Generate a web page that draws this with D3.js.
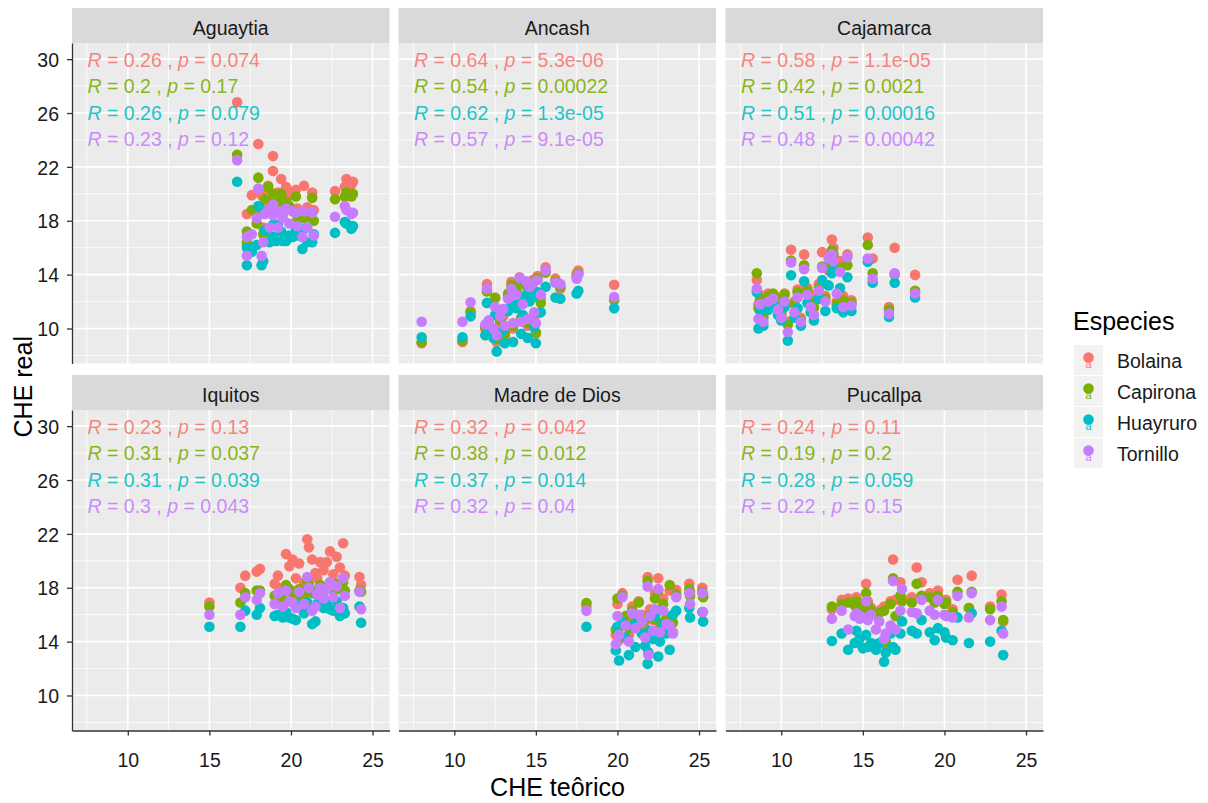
<!DOCTYPE html>
<html>
<head>
<meta charset="utf-8">
<script src="https://cdn.jsdelivr.net/npm/d3@7"></script>
<style>
body { margin: 0; background: #fff; }
text { font-family: Arial, "Liberation Sans", sans-serif; }
</style>
</head>
<body>
<div id="chart"></div>
<script>
// facets and species
var sites = ["Aguaytia", "Ancash", "Cajamarca", "Iquitos", "Madre de Dios", "Pucallpa"];
var species = ["Bolaina", "Capirona", "Huayruro", "Tornillo"];
var speciesColors = ["#F8766D", "#7CAE00", "#00BFC4", "#C77CFF"];

// correlation labels (R, p) per site, species in order
var rLabels = [
	["0.26", "0.2", "0.26", "0.23"],
	["0.64", "0.54", "0.62", "0.57"],
	["0.58", "0.42", "0.51", "0.48"],
	["0.23", "0.31", "0.31", "0.3"],
	["0.32", "0.38", "0.37", "0.32"],
	["0.24", "0.19", "0.28", "0.22"]
];
var pLabels = [
	["0.074", "0.17", "0.079", "0.12"],
	["5.3e-06", "0.00022", "1.3e-05", "9.1e-05"],
	["1.1e-05", "0.0021", "0.00016", "0.00042"],
	["0.13", "0.037", "0.039", "0.043"],
	["0.042", "0.012", "0.014", "0.04"],
	["0.11", "0.2", "0.059", "0.15"]
];

var xTicks = [10, 15, 20, 25];
var yTicks = [10, 14, 18, 22, 26, 30];

// CHE teorico (x) per sample, CHE real (y) per species [Bolaina, Capirona, Huayruro, Tornillo]
var aguaytiaX = [16.7, 17.3, 17.3, 17.6, 17.9, 18.0, 18.2, 18.3, 18.4, 18.6, 18.7, 18.9, 18.9, 19.1, 19.2, 19.4, 19.5, 19.7, 19.9, 20.1, 20.3, 20.4, 20.7, 20.8, 21.0, 21.3, 21.4, 22.7, 23.3, 23.4, 23.7, 23.8];
var aguaytiaY = [
	[26.8, 18.5, 16.2, 19.9, 18.6, 23.7, 19.9, 17.5, 20.3, 20.6, 19.5, 22.8, 21.7, 19.8, 20.1, 21.1, 19.6, 20.5, 20.0, 19.9, 20.3, 18.9, 18.2, 20.6, 19.0, 20.1, 18.8, 20.2, 20.5, 21.1, 20.7, 20.9],
	[22.9, 17.2, 16.4, 18.8, 17.8, 21.2, 18.9, 17.0, 19.6, 20.5, 18.9, 20.0, 19.3, 19.5, 19.3, 20.0, 18.6, 19.4, 19.1, 18.7, 19.8, 18.2, 18.6, 18.2, 18.3, 19.7, 18.0, 19.6, 19.8, 20.1, 19.8, 20.0],
	[20.9, 16.0, 14.7, 15.7, 16.2, 19.1, 14.7, 15.0, 17.3, 17.4, 16.4, 17.7, 16.8, 16.5, 17.7, 17.2, 16.5, 16.5, 16.9, 16.8, 17.4, 16.9, 15.9, 17.4, 16.4, 16.4, 17.0, 17.1, 17.9, 17.8, 17.4, 17.6],
	[22.5, 16.8, 15.4, 17.0, 18.2, 20.4, 15.4, 16.4, 18.5, 18.8, 17.5, 19.2, 18.4, 18.7, 17.5, 18.7, 18.2, 18.9, 17.8, 18.7, 18.6, 17.6, 16.8, 18.7, 17.5, 18.6, 16.9, 18.3, 19.1, 18.8, 18.5, 18.6]
];

var ancashX = [8.0, 10.5, 11.0, 11.9, 12.0, 12.1, 12.4, 12.5, 12.6, 12.8, 13.0, 13.1, 13.3, 13.5, 13.6, 13.8, 14.0, 14.1, 14.2, 14.4, 14.5, 14.6, 14.8, 14.9, 15.0, 15.1, 15.3, 15.6, 16.2, 16.5, 17.5, 17.6, 19.8];
var ancashY = [
	[8.9, 9.0, 11.3, 10.0, 13.3, 10.2, 9.6, 12.3, 9.0, 10.5, 10.9, 9.4, 12.4, 13.45, 10.0, 12.8, 13.8, 10.6, 12.1, 13.4, 10.2, 12.9, 13.6, 10.8, 9.6, 13.9, 12.2, 14.55, 13.7, 12.95, 14.1, 14.3, 13.25],
	[9.0, 9.1, 11.2, 10.1, 12.75, 10.4, 9.8, 12.25, 9.2, 10.6, 11.2, 9.6, 12.6, 13.2, 10.2, 12.9, 13.5, 10.8, 12.0, 13.2, 10.4, 12.8, 13.4, 11.0, 9.7, 13.7, 11.9, 14.15, 13.5, 13.1, 13.9, 14.1, 12.1],
	[9.35, 9.35, 10.9, 9.5, 11.9, 9.9, 9.3, 11.0, 8.3, 9.7, 9.9, 8.9, 11.3, 11.8, 9.0, 11.5, 12.2, 9.6, 11.0, 12.5, 9.3, 12.0, 12.3, 10.1, 8.9, 12.7, 11.2, 13.1, 12.3, 12.2, 12.6, 12.8, 11.5],
	[10.5, 10.5, 11.95, 10.3, 12.95, 10.6, 10.0, 11.6, 9.5, 10.9, 11.45, 10.2, 12.2, 12.95, 10.4, 12.5, 13.75, 10.5, 11.8, 13.5, 10.7, 13.1, 13.3, 11.2, 10.4, 13.6, 12.5, 14.3, 13.4, 13.3, 13.7, 14.0, 12.33]
];

var cajamarcaX = [8.5, 8.6, 8.7, 8.9, 9.2, 9.5, 9.8, 10.0, 10.2, 10.4, 10.6, 10.8, 11.0, 11.2, 11.4, 11.6, 11.8, 12.0, 12.3, 12.5, 12.7, 12.9, 13.1, 13.2, 13.4, 13.6, 13.8, 14.05, 14.3, 15.3, 15.6, 16.6, 16.95, 18.2];
var cajamarcaY = [
	[13.6, 11.8, 12.5, 11.0, 12.6, 12.4, 12.3, 11.2, 12.6, 10.5, 15.85, 12.0, 12.9, 10.8, 15.5, 13.0, 12.5, 11.5, 13.3, 15.67, 12.4, 14.3, 16.6, 16.0, 12.0, 15.0, 12.4, 15.5, 12.1, 16.75, 15.2, 11.6, 16.0, 13.98],
	[14.1, 11.5, 12.2, 10.8, 12.4, 12.6, 12.1, 11.0, 12.5, 10.3, 15.05, 11.8, 12.7, 10.6, 14.7, 12.8, 12.0, 11.6, 13.0, 14.6, 12.2, 14.5, 15.8, 15.5, 11.8, 14.5, 12.1, 14.7, 11.9, 16.2, 14.1, 11.4, 14.0, 12.8],
	[12.7, 10.0, 11.3, 10.2, 11.4, 11.9, 11.0, 10.6, 11.6, 9.1, 13.95, 10.8, 11.5, 10.2, 13.5, 11.9, 11.2, 10.6, 12.2, 13.6, 11.3, 13.2, 14.1, 14.4, 11.5, 13.0, 11.2, 13.8, 11.3, 14.95, 13.4, 10.85, 13.4, 12.3],
	[12.95, 10.7, 11.8, 10.5, 12.0, 12.2, 11.4, 10.8, 12.0, 9.73, 14.9, 11.2, 12.3, 10.5, 14.4, 12.5, 11.6, 11.0, 12.8, 14.5, 12.0, 15.2, 15.5, 15.0, 12.6, 14.2, 11.6, 15.3, 11.7, 15.2, 13.7, 11.1, 14.1, 12.6]
];

var iquitosX = [15.0, 16.9, 17.2, 17.9, 18.1, 19.0, 19.2, 19.5, 19.7, 19.9, 20.1, 20.3, 20.5, 20.8, 21.0, 21.1, 21.3, 21.5, 21.6, 21.8, 22.0, 22.2, 22.4, 22.6, 22.8, 23.0, 23.2, 23.3, 24.2, 24.3];
var iquitosY = [
	[16.9, 18.0, 18.9, 19.2, 19.4, 18.3, 18.9, 18.0, 20.5, 19.6, 20.1, 18.7, 19.8, 18.4, 21.6, 21.0, 20.1, 19.1, 18.7, 19.9, 19.3, 19.9, 20.7, 19.0, 20.3, 19.5, 21.3, 18.9, 18.8, 18.2],
	[16.6, 16.9, 17.6, 17.8, 17.8, 17.4, 17.5, 17.2, 18.2, 17.9, 17.6, 17.3, 17.9, 17.5, 18.5, 18.2, 17.6, 17.8, 17.5, 18.2, 17.7, 18.0, 18.4, 17.8, 18.3, 17.9, 18.4, 17.8, 17.8, 17.7],
	[15.1, 15.1, 16.3, 16.0, 16.5, 15.9, 16.0, 15.8, 16.2, 15.8, 15.7, 15.6, 16.8, 16.1, 16.9, 16.5, 15.3, 15.5, 16.8, 17.0, 16.5, 16.9, 16.4, 16.3, 17.0, 15.9, 16.5, 16.1, 16.6, 15.4],
	[16.0, 16.0, 17.3, 17.1, 17.6, 16.8, 17.6, 16.6, 17.8, 17.0, 16.9, 16.5, 17.7, 16.8, 18.8, 18.0, 16.3, 16.6, 17.5, 18.0, 17.2, 17.9, 18.4, 17.3, 18.1, 16.5, 18.7, 17.4, 17.7, 16.4]
];

var madreX = [18.1, 19.9, 20.0, 20.1, 20.3, 20.5, 20.7, 20.9, 21.1, 21.3, 21.5, 21.7, 21.85, 21.9, 22.0, 22.2, 22.3, 22.5, 22.6, 22.8, 23.0, 23.2, 23.4, 23.6, 24.4, 24.45, 25.2, 25.25];
var madreY = [
	[16.6, 14.5, 16.8, 14.1, 17.6, 15.6, 14.5, 16.6, 15.3, 17.0, 16.0, 15.0, 18.8, 14.3, 16.4, 15.6, 17.6, 18.7, 15.0, 17.2, 15.8, 17.8, 14.7, 17.85, 18.3, 17.7, 18.0, 17.5],
	[16.86, 14.9, 17.2, 15.0, 17.4, 15.9, 15.0, 16.3, 15.5, 16.9, 15.7, 15.6, 18.5, 14.8, 16.0, 15.7, 17.2, 17.8, 15.4, 16.8, 15.6, 18.2, 15.4, 17.5, 17.9, 17.4, 17.7, 17.3],
	[15.1, 13.35, 15.1, 12.6, 15.4, 14.3, 13.0, 15.2, 13.6, 15.6, 14.6, 13.7, 12.35, 13.2, 14.8, 14.2, 15.9, 12.9, 14.0, 15.3, 14.6, 13.4, 16.0, 16.3, 16.5, 15.8, 16.2, 15.5],
	[16.3, 13.8, 15.9, 14.5, 17.3, 15.2, 14.0, 16.1, 15.0, 16.0, 15.5, 14.3, 18.1, 13.0, 15.9, 14.8, 16.4, 17.9, 14.7, 16.3, 15.3, 15.2, 14.6, 17.3, 17.6, 16.8, 17.6, 16.2]
];

var pucallpaX = [13.1, 13.7, 14.1, 14.5, 14.6, 14.8, 15.0, 15.2, 15.3, 15.5, 15.8, 16.0, 16.3, 16.4, 16.7, 16.85, 17.0, 17.3, 17.4, 18.0, 18.3, 18.6, 19.1, 19.4, 19.6, 20.0, 20.1, 20.5, 20.8, 21.5, 21.67, 22.8, 23.5, 23.6];
var pucallpaY = [
	[16.4, 17.1, 17.2, 16.9, 17.3, 16.9, 16.6, 18.3, 17.0, 16.5, 16.1, 16.3, 16.6, 13.7, 17.0, 20.1, 17.1, 18.4, 17.2, 17.3, 19.5, 18.4, 17.6, 17.2, 17.8, 17.0, 17.1, 16.4, 18.6, 16.5, 18.9, 16.6, 17.5, 15.5],
	[16.6, 16.8, 16.9, 16.7, 17.0, 16.6, 16.4, 17.6, 16.8, 16.3, 16.0, 16.1, 16.3, 14.0, 16.8, 18.7, 15.9, 17.4, 17.0, 16.9, 18.3, 17.4, 17.3, 16.9, 17.4, 16.8, 16.9, 16.2, 17.7, 16.5, 17.7, 16.4, 17.0, 15.6],
	[14.05, 14.6, 13.4, 13.9, 14.8, 14.2, 13.5, 14.5, 13.6, 13.9, 13.4, 13.9, 12.5, 13.2, 14.6, 13.6, 13.4, 14.6, 15.5, 14.8, 14.6, 15.6, 14.7, 14.1, 15.0, 14.7, 14.3, 14.1, 15.8, 13.9, 16.1, 14.0, 14.8, 13.0],
	[15.7, 16.3, 14.9, 15.9, 16.1, 15.7, 15.8, 17.0, 15.6, 16.0, 14.9, 15.5, 14.2, 14.6, 15.2, 18.5, 14.9, 16.3, 17.9, 16.2, 16.1, 17.1, 16.3, 16.0, 17.1, 16.0, 15.9, 15.8, 17.4, 15.8, 17.6, 15.6, 16.6, 14.6]
];

var siteX = [aguaytiaX, ancashX, cajamarcaX, iquitosX, madreX, pucallpaX];
var siteY = [aguaytiaY, ancashY, cajamarcaY, iquitosY, madreY, pucallpaY];

// layout
var colLeft = [72, 398.5, 725.5],
	rowTop = [8, 375],
	panelW = 317.5,
	panelH = 320.5,
	stripH = 35,
	fs = 19.5,
	pointR = 5.3;

var svg = d3.select("#chart")
	.append("svg")
	.attr("width", 1208)
	.attr("height", 803);

var x = d3.scaleLinear().domain([6.58, 26.04]).range([0, panelW]);
var y = d3.scaleLinear().domain([7.4, 31.2]).range([panelH, 0]);

var xMinor = [7.5, 12.5, 17.5, 22.5];
var yMinor = [8, 12, 16, 20, 24, 28];

sites.forEach(function(site, i) {
	var col = i % 3, row = Math.floor(i / 3);

	// strip
	var strip = svg.append("g")
		.attr("transform", "translate(" + colLeft[col] + "," + rowTop[row] + ")");
	strip.append("rect")
		.attr("width", panelW)
		.attr("height", stripH)
		.attr("fill", "#D9D9D9");
	strip.append("text")
		.attr("x", panelW / 2)
		.attr("y", 27)
		.attr("text-anchor", "middle")
		.style("font-size", fs + "px")
		.style("fill", "#1A1A1A")
		.text(site);

	var g = svg.append("g")
		.attr("transform", "translate(" + colLeft[col] + "," + (rowTop[row] + stripH) + ")");

	g.append("rect")
		.attr("width", panelW)
		.attr("height", panelH)
		.attr("fill", "#EBEBEB");

	// grid lines
	g.selectAll(".xminor").data(xMinor).enter().append("line")
		.attr("x1", function(d) { return x(d); }).attr("x2", function(d) { return x(d); })
		.attr("y1", 0).attr("y2", panelH)
		.attr("stroke", "#fff").attr("stroke-width", 0.8);
	g.selectAll(".yminor").data(yMinor).enter().append("line")
		.attr("y1", function(d) { return y(d); }).attr("y2", function(d) { return y(d); })
		.attr("x1", 0).attr("x2", panelW)
		.attr("stroke", "#fff").attr("stroke-width", 0.8);
	g.selectAll(".xmajor").data(xTicks).enter().append("line")
		.attr("x1", function(d) { return x(d); }).attr("x2", function(d) { return x(d); })
		.attr("y1", 0).attr("y2", panelH)
		.attr("stroke", "#fff").attr("stroke-width", 1.6);
	g.selectAll(".ymajor").data(yTicks).enter().append("line")
		.attr("y1", function(d) { return y(d); }).attr("y2", function(d) { return y(d); })
		.attr("x1", 0).attr("x2", panelW)
		.attr("stroke", "#fff").attr("stroke-width", 1.6);

	// points, species drawn in order
	var xs = siteX[i];
	species.forEach(function(sp, s) {
		var ys = siteY[i][s];
		var pts = xs.map(function(v, k) { return {x: v, y: ys[k]}; })
			.filter(function(d) { return d.y != null; });
		g.selectAll(".pt" + s).data(pts).enter().append("circle")
			.attr("cx", function(d) { return x(d.x); })
			.attr("cy", function(d) { return y(d.y); })
			.attr("r", pointR)
			.attr("fill", speciesColors[s]);
	});

	// correlation labels
	species.forEach(function(sp, s) {
		var t = g.append("text")
			.attr("x", 15.5)
			.attr("y", 23.7 + s * 26.4)
			.style("font-size", fs + "px")
			.style("fill", speciesColors[s])
			.style("fill-opacity", 0.9);
		t.append("tspan").style("font-style", "italic").text("R");
		t.append("tspan").text(" = " + rLabels[i][s] + " , ");
		t.append("tspan").style("font-style", "italic").text("p");
		t.append("tspan").text(" = " + pLabels[i][s]);
	});

	// left axis on first column
	if (col === 0) {
		var ya = g.append("g")
			.call(d3.axisLeft(y).tickValues(yTicks).tickSize(5).tickSizeOuter(0).tickPadding(8));
		ya.select(".domain").attr("stroke", "#333").attr("stroke-width", 1.3);
		ya.selectAll(".tick line").attr("stroke", "#333").attr("stroke-width", 1.3);
		ya.selectAll(".tick text")
			.attr("dy", "0.37em")
			.style("font-size", fs + "px")
			.style("font-family", "Arial, 'Liberation Sans', sans-serif")
			.style("fill", "#1A1A1A");
	}
	// bottom axis on second row
	if (row === 1) {
		var xa = g.append("g")
			.attr("transform", "translate(0," + panelH + ")")
			.call(d3.axisBottom(x).tickValues(xTicks).tickSize(5).tickSizeOuter(0).tickPadding(18));
		xa.select(".domain").attr("stroke", "#333").attr("stroke-width", 1.3);
		xa.selectAll(".tick line").attr("stroke", "#333").attr("stroke-width", 1.3);
		xa.selectAll(".tick text")
			.style("font-size", fs + "px")
			.style("font-family", "Arial, 'Liberation Sans', sans-serif")
			.style("fill", "#1A1A1A");
	}
});

// axis titles
svg.append("text")
	.attr("x", (colLeft[0] + colLeft[2] + panelW) / 2)
	.attr("y", 796)
	.attr("text-anchor", "middle")
	.style("font-size", "25px")
	.style("fill", "#000")
	.text("CHE teôrico");
svg.append("text")
	.attr("transform", "translate(31.5," + ((rowTop[0] + stripH + rowTop[1] + stripH + panelH) / 2) + ") rotate(-90)")
	.attr("text-anchor", "middle")
	.style("font-size", "25px")
	.style("fill", "#000")
	.text("CHE real");

// legend
var legend = svg.append("g").attr("transform", "translate(1073,0)");
legend.append("text")
	.attr("x", 0)
	.attr("y", 329.5)
	.style("font-size", "25px")
	.style("fill", "#000")
	.text("Especies");
species.forEach(function(sp, s) {
	var top = 345 + s * 31;
	legend.append("rect")
		.attr("x", 1).attr("y", top)
		.attr("width", 29).attr("height", 30)
		.attr("fill", "#F2F2F2");
	legend.append("text")
		.attr("x", 15.5).attr("y", top + 23)
		.attr("text-anchor", "middle")
		.style("font-size", "11px")
		.style("fill", speciesColors[s])
		.text("a");
	legend.append("circle")
		.attr("cx", 15.5).attr("cy", top + 12.5)
		.attr("r", pointR)
		.attr("fill", speciesColors[s]);
	legend.append("text")
		.attr("x", 44).attr("y", top + 22.8)
		.style("font-size", fs + "px")
		.style("fill", "#1A1A1A")
		.text(sp);
});
</script>
</body>
</html>
